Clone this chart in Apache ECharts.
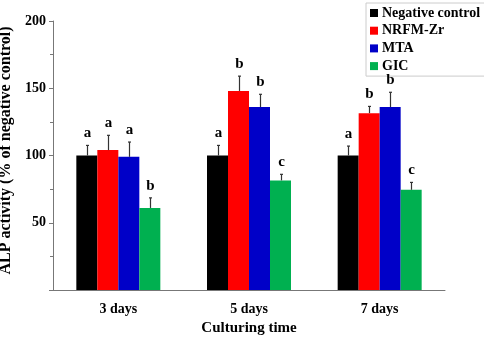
<!DOCTYPE html>
<html>
<head>
<meta charset="utf-8">
<script src="https://cdn.jsdelivr.net/npm/echarts@6/dist/echarts.min.js"></script>
<style>
  html, body { margin: 0; padding: 0; background: #fff; }
  #chart { width: 484px; height: 337px; }
</style>
</head>
<body>
<div id="chart"></div>
<script>
// culturing time groups
const categories = ['3 days', '5 days', '7 days']
const seriesNames = ['Negative control', 'NRFM-Zr', 'MTA', 'GIC']
const colors = ['#000000', '#ff0000', '#0000c8', '#00b050']

// ALP activity, % of negative control
const negativeControl = [100, 100, 100]
const nrfmZr = [104, 148, 131.5]
const mta = [99, 136, 136]
const gic = [61, 81.5, 74.5]

// upper error (SD)
const negativeControlErr = [7.5, 7.5, 7]
const nrfmZrErr = [11, 11, 5]
const mtaErr = [11, 9.5, 11]
const gicErr = [7.5, 4.5, 5.5]

// significance letters
const negativeControlSig = ['a', 'a', 'a']
const nrfmZrSig = ['a', 'b', 'b']
const mtaSig = ['a', 'b', 'b']
const gicSig = ['b', 'c', 'c']

const yTicks = [0, 50, 100, 150, 200]

const values = [negativeControl, nrfmZr, mta, gic]
const errors = [negativeControlErr, nrfmZrErr, mtaErr, gicErr]
const letters = [negativeControlSig, nrfmZrSig, mtaSig, gicSig]

const serif = 'Liberation Serif'
const barWidth = 21

const chart = echarts.init(document.getElementById('chart'))

let series = []
for (let i = 0; i < seriesNames.length; i++) {
  series.push({
    name: seriesNames[i],
    type: 'bar',
    data: values[i],
    barWidth: barWidth,
    barGap: '0%',
    itemStyle: { color: colors[i] },
    z: 2
  })
}
// error bars + letters, drawn through the axes
for (let i = 0; i < seriesNames.length; i++) {
  const offset = (i - 1.5) * barWidth
  series.push({
    name: 'err' + i,
    type: 'custom',
    data: values[i].map((v, k) => [k, v, v + errors[i][k]]),
    z: 5,
    silent: true,
    renderItem: function (params, api) {
      const top = api.coord([api.value(0), api.value(1)])
      const end = api.coord([api.value(0), api.value(2)])
      const x = Math.round(top[0] + offset) + 0.5
      return {
        type: 'group',
        children: [
          {
            type: 'line',
            shape: { x1: x, y1: top[1], x2: x, y2: end[1] },
            style: { stroke: '#333', lineWidth: 1.2 }
          },
          {
            type: 'line',
            shape: { x1: x - 1.5, y1: end[1], x2: x + 1.5, y2: end[1] },
            style: { stroke: '#333', lineWidth: 1.2 }
          },
          {
            type: 'text',
            style: {
              x: x,
              y: end[1] - 12,
              text: letters[i][params.dataIndex],
              font: 'bold 15px ' + serif,
              fill: '#000',
              align: 'center',
              verticalAlign: 'middle'
            }
          }
        ]
      }
    }
  })
}

chart.setOption({
  animation: false,
  backgroundColor: '#fff',
  legend: {
    data: seriesNames,
    orient: 'vertical',
    left: 366,
    top: 3,
    icon: 'rect',
    itemWidth: 8,
    itemHeight: 8,
    itemGap: 3.7,
    padding: [3, 8, 3, 4],
    borderColor: '#cccccc',
    borderWidth: 1,
    textStyle: {
      fontFamily: serif,
      fontWeight: 'bold',
      fontSize: 14,
      lineHeight: 13,
      color: '#000',
      padding: [0, 0, 0, -1]
    }
  },
  grid: {
    left: 53,
    right: 39,
    top: 21,
    bottom: 47,
    containLabel: false,
    outerBoundsMode: 'none'
  },
  xAxis: {
    type: 'category',
    data: categories,
    name: 'Culturing time',
    nameLocation: 'middle',
    nameGap: 29,
    nameTextStyle: {
      fontFamily: serif,
      fontWeight: 'bold',
      fontSize: 15,
      color: '#000'
    },
    axisLine: { lineStyle: { color: '#777', width: 1 } },
    axisTick: { show: false },
    axisLabel: {
      fontFamily: serif,
      fontWeight: 'bold',
      fontSize: 14,
      color: '#000',
      margin: 12
    }
  },
  yAxis: {
    type: 'value',
    min: yTicks[0],
    max: yTicks[yTicks.length - 1],
    interval: 50,
    name: 'ALP activity (% of negative control)',
    nameLocation: 'middle',
    nameGap: 33,
    nameTextStyle: {
      fontFamily: serif,
      fontWeight: 'bold',
      fontSize: 16,
      color: '#000',
      padding: [0, 0, 0, 10]
    },
    axisLine: { show: true, lineStyle: { color: '#777', width: 1 } },
    axisTick: { show: true, length: 4, lineStyle: { color: '#777' } },
    minorTick: { show: true, splitNumber: 2, length: 3, lineStyle: { color: '#777' } },
    splitLine: { show: false },
    axisLabel: {
      fontFamily: serif,
      fontWeight: 'bold',
      fontSize: 14,
      color: '#000',
      margin: 7,
      showMinLabel: false
    }
  },
  series: series
})
</script>
</body>
</html>
